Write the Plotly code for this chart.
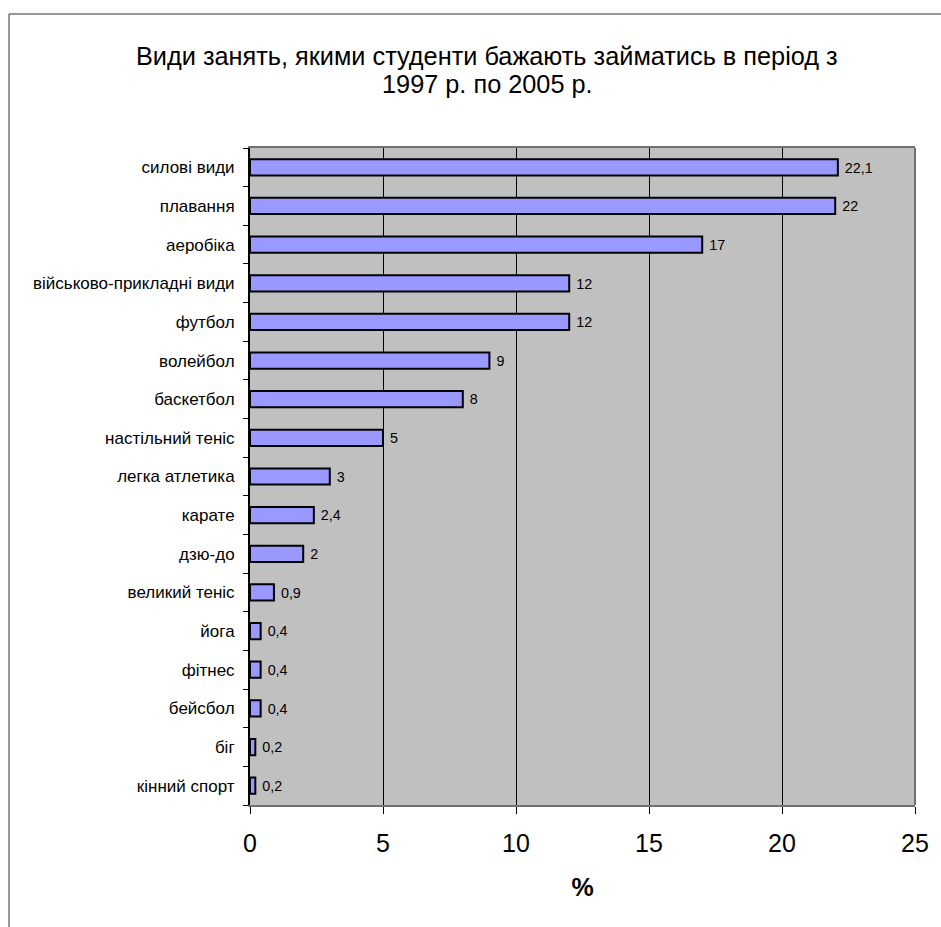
import plotly.graph_objects as go

categories = ["силові види", "плавання", "аеробіка", "військово-прикладні види", "футбол",
              "волейбол", "баскетбол", "настільний теніс", "легка атлетика", "карате",
              "дзю-до", "великий теніс", "йога", "фітнес", "бейсбол", "біг", "кінний спорт"]
values = [22.1, 22, 17, 12, 12, 9, 8, 5, 3, 2.4, 2, 0.9, 0.4, 0.4, 0.4, 0.2, 0.2]
value_labels = ["\u00a0" + str(v).replace(".", ",") for v in values]
x_ticks = [0, 5, 10, 15, 20, 25]
title_lines = ["Види занять, якими студенти бажають займатись в період з", "1997 р. по 2005 р."]

W, H = 941, 927
L, R, T, B = 250, 26, 148, 122
pw, ph = W - L - R, H - T - B


def px(x):
    return (x - L) / pw


def py(y):
    return (H - B - y) / ph


FONT = "Liberation Sans, Arial"

fig = go.Figure(go.Bar(
    y=categories[::-1], x=values[::-1], orientation="h",
    marker=dict(color="#9999FF", line=dict(color="black", width=2)),
    width=0.42,
    text=value_labels[::-1], textposition="outside",
    textfont=dict(family=FONT, size=15, color="black"),
    cliponaxis=False,
))

annotations = [
    dict(text=title_lines[0], xref="paper", yref="paper", x=px(487), y=py(56),
         xanchor="center", yanchor="middle", showarrow=False, font=dict(size=25.3)),
    dict(text=title_lines[1], xref="paper", yref="paper", x=px(487), y=py(84),
         xanchor="center", yanchor="middle", showarrow=False, font=dict(size=25.3)),
]

fig.update_layout(
    width=W, height=H,
    margin=dict(l=L, r=R, t=T, b=B),
    paper_bgcolor="white", plot_bgcolor="#C0C0C0",
    showlegend=False,
    font=dict(family=FONT, color="black"),
    annotations=annotations,
    xaxis=dict(range=[0, 25], tickvals=x_ticks, ticktext=[str(t) for t in x_ticks],
               showgrid=True, gridcolor="black", gridwidth=1,
               showline=True, linecolor="#707070", linewidth=2, mirror=True,
               ticks="outside", ticklen=7, tickcolor="black", tickwidth=1,
               tickfont=dict(size=25), zeroline=False, ticklabelstandoff=8,
               title=dict(text="<b>%</b>", font=dict(size=25), standoff=22)),
    yaxis=dict(type="category", showgrid=False,
               showline=True, linecolor="black", linewidth=2,
               ticks="outside", tickson="boundaries", ticklen=5, tickcolor="black",
               tickfont=dict(size=17), ticklabelstandoff=10),
    shapes=[
        dict(type="line", xref="paper", yref="paper", x0=1, x1=1, y0=0, y1=1,
             line=dict(color="#707070", width=2)),
        dict(type="line", xref="paper", yref="paper", x0=px(9), x1=px(941), y0=py(14), y1=py(14),
             line=dict(color="#333333", width=1)),
        dict(type="line", xref="paper", yref="paper", x0=px(9), x1=px(9), y0=py(14), y1=py(927),
             line=dict(color="#333333", width=1)),
    ],
)

fig.write_html("out.html")
